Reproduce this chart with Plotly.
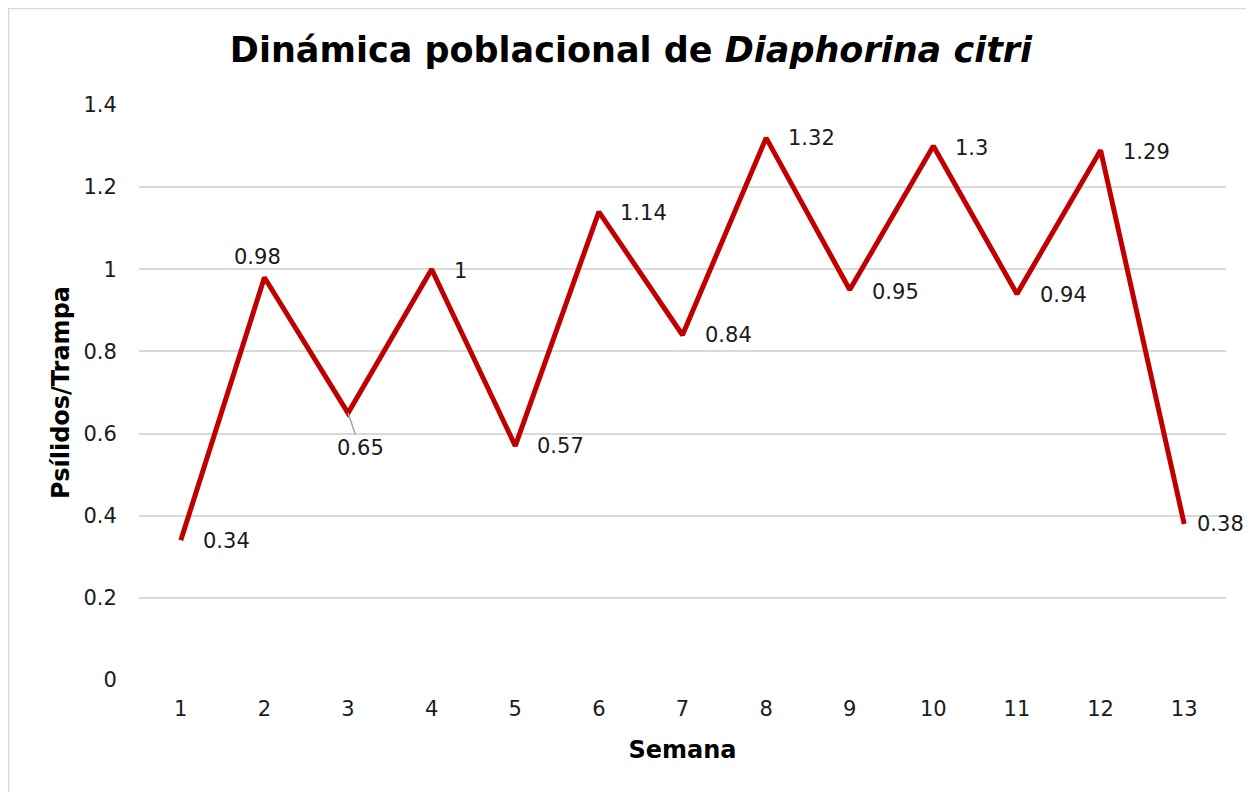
import plotly.graph_objects as go

semanas = list(range(1, 14))
psilidos = [0.34, 0.98, 0.65, 1.0, 0.57, 1.14, 0.84, 1.32, 0.95, 1.3, 0.94, 1.29, 0.38]
etiquetas = ["0.34", "0.98", "0.65", "1", "0.57", "1.14", "0.84", "1.32", "0.95", "1.3", "0.94", "1.29", "0.38"]
y_ticks = [0, 0.2, 0.4, 0.6, 0.8, 1.0, 1.2, 1.4]
y_ticktext = ["0", "0.2", "0.4", "0.6", "0.8", "1", "1.2", "1.4"]

FONT = "DejaVu Sans"
L, R, T, B = 131, 36, 97, 120
W, H = 1254, 792
pw, ph = W - L - R, H - T - B

fig = go.Figure()
fig.add_trace(go.Scatter(
    x=semanas, y=psilidos, mode="lines",
    line=dict(color="#C00000", width=5), hoverinfo="skip", showlegend=False,
))

LBL = dict(family=FONT, size=21, color="#1a1a1a")
# label placement: (anchor, xshift, yshift) in px relative to each point
place = [("left", 20, -1), ("center", -7, 21), (None, 0, 0), ("left", 20, -2),
         ("left", 20, 0), ("left", 19, -1), ("left", 20, 0), ("left", 20, 0),
         ("left", 20, -2), ("left", 20, -2), ("left", 21, -1), ("left", 20, -2),
         ("left", 11, 0)]
for (x, y, t), (anc, dx, dy) in zip(zip(semanas, psilidos, etiquetas), place):
    if anc is None:
        fig.add_annotation(x=x, y=y, text=t, showarrow=True, arrowhead=0,
                           arrowcolor="#A6A6A6", arrowwidth=1.5, ax=12, ay=35,
                           font=LBL)
    else:
        fig.add_annotation(x=x, y=y, text=t, showarrow=False, xanchor=anc,
                           xshift=dx, yshift=dy, font=LBL)

# outer chart border
fig.add_shape(type="rect", xref="paper", yref="paper",
              x0=(0.5 - L) / pw, x1=(W - 0.5 - L) / pw,
              y0=(0.5 - B) / ph, y1=(H - B - 0.5) / ph,
              line=dict(color="#D9D9D9", width=1.5), fillcolor="rgba(0,0,0,0)", layer="below")

fig.update_layout(
    width=W, height=H,
    margin=dict(l=L, r=R, t=T, b=B),
    paper_bgcolor="white", plot_bgcolor="white",
    title=dict(
        text="<b>Dinámica poblacional de <i>Diaphorina citri</i></b>",
        x=623 / W, xanchor="center", y=1 - 42 / H, yanchor="middle",
        font=dict(family=FONT, size=35, color="black"),
    ),
    xaxis=dict(
        range=[0.5, 13.5], tickmode="array", tickvals=semanas,
        ticktext=[str(s) for s in semanas],
        showgrid=False, zeroline=False, showline=False,
        ticks="outside", ticklen=10, tickcolor="rgba(0,0,0,0)",
        tickfont=LBL,
        title=dict(text="<b>Semana</b>", font=dict(family=FONT, size=24, color="black"), standoff=20),
    ),
    yaxis=dict(
        range=[0, 1.4], tickmode="array", tickvals=y_ticks, ticktext=y_ticktext,
        showgrid=True, gridcolor="#D9D9D9", gridwidth=1.5,
        zeroline=False, showline=False,
        ticks="outside", ticklen=17, tickcolor="rgba(0,0,0,0)",
        tickfont=LBL,
        title=dict(text="<b>Psílidos/Trampa</b>", font=dict(family=FONT, size=24, color="black"), standoff=6),
    ),
)

fig.write_html("out.html")
